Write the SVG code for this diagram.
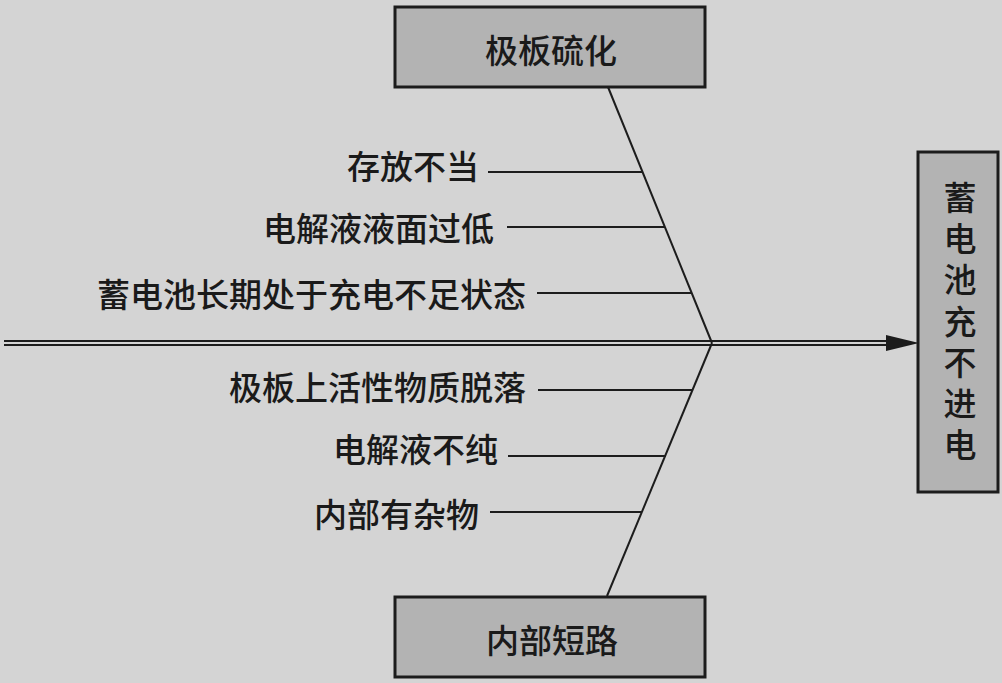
<svg xmlns="http://www.w3.org/2000/svg" width="1002" height="683" viewBox="0 0 1002 683">
  <defs>
    <style>
      .bg { fill: #d4d4d4; }
      .box { fill: #b3b3b3; stroke: #1c1c1c; stroke-width: 3; }
      .t { font-family: "Noto Sans CJK SC", "Noto Sans", sans-serif; font-size: 33px; font-weight: 500; fill: #1a1a1a; }
      .lbl { text-anchor: end; }
      .ctr { text-anchor: middle; }
      .vert { writing-mode: vertical-rl; text-anchor: start; letter-spacing: 8.2px; }
      .ln { stroke: #1c1c1c; stroke-width: 2; fill: none; }
    </style>
    <marker id="arrow" markerUnits="userSpaceOnUse" markerWidth="34" markerHeight="18" refX="33" refY="9" orient="auto">
      <path d="M0,1 L33,9 L0,17 Z" fill="#1c1c1c"/>
    </marker>
  </defs>
  <rect class="bg" x="0" y="0" width="1002" height="683"/>

  <g id="connectors">
    <line class="ln" x1="4" y1="341" x2="888" y2="341"/>
    <line class="ln" x1="4" y1="345" x2="888" y2="345"/>
    <line x1="880" y1="343" x2="919" y2="343" stroke="#1c1c1c" stroke-width="0.1" marker-end="url(#arrow)"/>
    <line class="ln" x1="608" y1="87" x2="712" y2="343"/>
    <line class="ln" x1="712" y1="343" x2="607" y2="596"/>
    <line class="ln" x1="488" y1="172" x2="643" y2="172"/>
    <line class="ln" x1="507" y1="227" x2="665" y2="227"/>
    <line class="ln" x1="537" y1="293" x2="692" y2="293"/>
    <line class="ln" x1="538" y1="390" x2="693" y2="390"/>
    <line class="ln" x1="508" y1="456" x2="666" y2="456"/>
    <line class="ln" x1="490" y1="512" x2="642" y2="512"/>
  </g>

  <g id="node-top">
    <rect class="box" x="395" y="7" width="310" height="80"/>
    <text class="t ctr" x="551" y="63">极板硫化</text>
  </g>

  <g id="node-bottom">
    <rect class="box" x="395" y="597" width="310" height="80"/>
    <text class="t ctr" x="552" y="653">内部短路</text>
  </g>

  <g id="node-result">
    <rect class="box" x="918" y="152" width="80" height="340"/>
    <text class="t vert" x="960" y="181">蓄电池充不进电</text>
  </g>

  <g id="cause-1"><text class="t lbl" x="479" y="179">存放不当</text></g>
  <g id="cause-2"><text class="t lbl" x="494" y="241">电解液液面过低</text></g>
  <g id="cause-3"><text class="t lbl" x="526" y="307">蓄电池长期处于充电不足状态</text></g>
  <g id="cause-4"><text class="t lbl" x="526" y="400">极板上活性物质脱落</text></g>
  <g id="cause-5"><text class="t lbl" x="498" y="462">电解液不纯</text></g>
  <g id="cause-6"><text class="t lbl" x="479" y="527">内部有杂物</text></g>
</svg>
